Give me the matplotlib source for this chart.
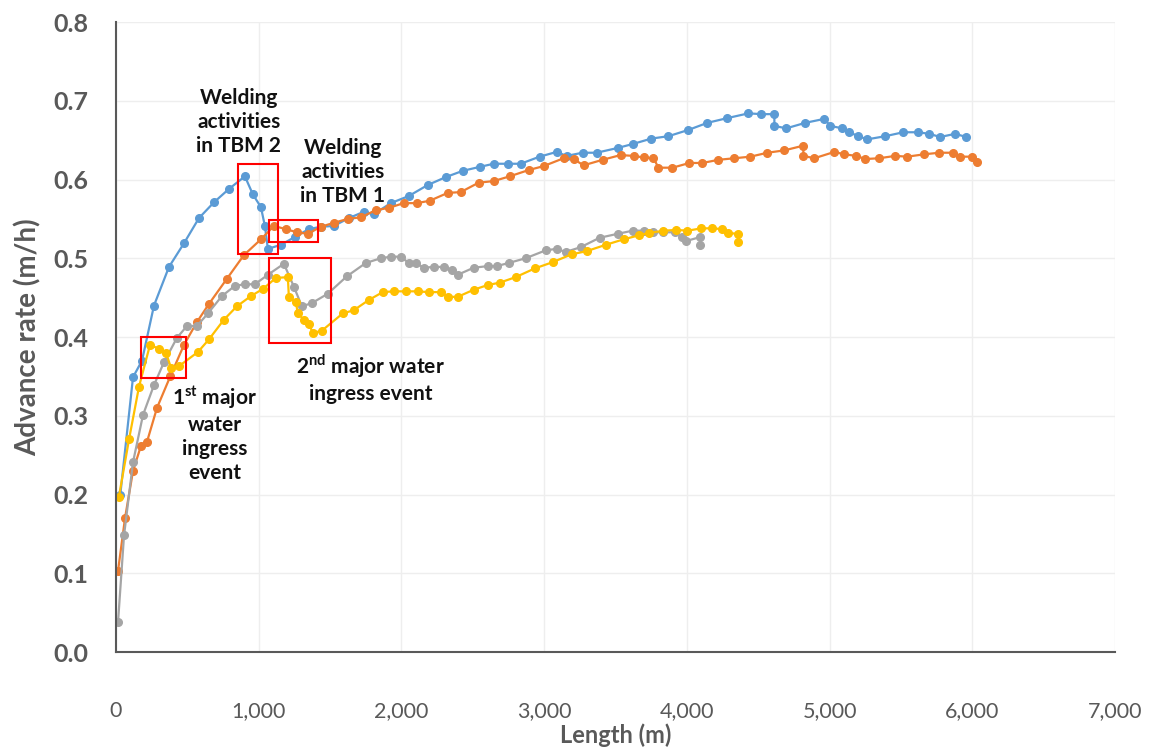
import matplotlib
matplotlib.use("Agg")
import matplotlib.pyplot as plt
from matplotlib.patches import Rectangle

plt.rcParams["font.family"] = ["Lato", "DejaVu Sans"]

# TBM advance rate vs length, four series (Excel default palette)
blue_len = [30, 119, 182, 266, 371, 476, 581, 686, 791, 903, 959, 1015, 1043, 1064, 1155, 1253, 1351,
            1435, 1526, 1631, 1736, 1806, 1925, 2051, 2184, 2310, 2429, 2548, 2646, 2744, 2835, 2968,
            3087, 3157, 3269, 3367, 3514, 3619, 3752, 3871, 4011, 4144, 4284, 4431, 4522, 4613, 4613,
            4697, 4830, 4963, 5005, 5089, 5138, 5201, 5264, 5390, 5516, 5621, 5698, 5775, 5880, 5957]
blue_rate = [0.20, 0.349, 0.37, 0.44, 0.489, 0.519, 0.551, 0.571, 0.588, 0.604, 0.581, 0.565, 0.541,
             0.512, 0.517, 0.527, 0.537, 0.540, 0.541, 0.551, 0.559, 0.556, 0.570, 0.579, 0.593, 0.603,
             0.611, 0.616, 0.620, 0.620, 0.620, 0.629, 0.635, 0.630, 0.634, 0.634, 0.640, 0.645, 0.652,
             0.655, 0.663, 0.672, 0.678, 0.684, 0.683, 0.683, 0.668, 0.665, 0.672, 0.677, 0.668, 0.665,
             0.660, 0.655, 0.651, 0.655, 0.660, 0.660, 0.658, 0.654, 0.658, 0.654]

orange_len = [14, 63, 119, 175, 217, 287, 380, 476, 567, 651, 777, 896, 1015, 1106, 1190, 1267, 1344,
              1435, 1526, 1624, 1715, 1820, 1911, 2016, 2107, 2198, 2324, 2415, 2541, 2646, 2758, 2891,
              2996, 3136, 3206, 3276, 3409, 3535, 3626, 3696, 3766, 3801, 3899, 4018, 4109, 4221, 4333,
              4445, 4564, 4683, 4816, 4816, 4893, 5033, 5103, 5187, 5250, 5348, 5460, 5544, 5663, 5768,
              5866, 5915, 5999, 6034]
orange_rate = [0.103, 0.170, 0.230, 0.262, 0.267, 0.310, 0.350, 0.390, 0.419, 0.442, 0.474, 0.504,
               0.524, 0.541, 0.537, 0.533, 0.531, 0.540, 0.545, 0.550, 0.552, 0.561, 0.564, 0.570,
               0.570, 0.573, 0.583, 0.584, 0.596, 0.598, 0.604, 0.612, 0.617, 0.627, 0.626, 0.618,
               0.625, 0.631, 0.630, 0.628, 0.627, 0.615, 0.615, 0.621, 0.621, 0.625, 0.627, 0.629,
               0.634, 0.637, 0.643, 0.630, 0.627, 0.635, 0.632, 0.630, 0.626, 0.627, 0.630, 0.629,
               0.632, 0.634, 0.634, 0.629, 0.629, 0.622]

gray_len = [14, 56, 119, 189, 266, 336, 427, 497, 567, 644, 742, 833, 903, 973, 1064, 1176, 1246, 1302,
            1372, 1484, 1617, 1750, 1855, 1925, 1995, 2051, 2100, 2156, 2226, 2296, 2352, 2394, 2506,
            2604, 2667, 2751, 2870, 3010, 3087, 3150, 3255, 3388, 3514, 3619, 3696, 3766, 3836, 3920,
            3969, 3997, 4095, 4095]
gray_rate = [0.038, 0.148, 0.241, 0.301, 0.339, 0.368, 0.399, 0.414, 0.414, 0.430, 0.452, 0.465, 0.467,
             0.467, 0.479, 0.493, 0.464, 0.439, 0.443, 0.455, 0.477, 0.494, 0.500, 0.502, 0.502, 0.494,
             0.494, 0.488, 0.489, 0.489, 0.485, 0.479, 0.488, 0.490, 0.490, 0.494, 0.500, 0.510, 0.512,
             0.508, 0.514, 0.526, 0.531, 0.535, 0.535, 0.533, 0.533, 0.533, 0.527, 0.522, 0.527, 0.517]

yellow_len = [20, 91, 161, 238, 301, 350, 385, 441, 574, 651, 756, 847, 945, 1029, 1120, 1204, 1211,
              1260, 1274, 1316, 1351, 1379, 1442, 1589, 1666, 1771, 1869, 1946, 2030, 2114, 2191, 2275,
              2324, 2394, 2506, 2604, 2688, 2800, 2933, 3059, 3192, 3297, 3430, 3556, 3661, 3731, 3836,
              3927, 4004, 4102, 4179, 4249, 4291, 4361, 4361]
yellow_rate = [0.197, 0.270, 0.337, 0.390, 0.385, 0.380, 0.361, 0.363, 0.381, 0.397, 0.422, 0.439,
               0.452, 0.461, 0.475, 0.476, 0.451, 0.444, 0.430, 0.422, 0.417, 0.405, 0.408, 0.430,
               0.434, 0.447, 0.457, 0.458, 0.458, 0.458, 0.457, 0.457, 0.451, 0.451, 0.460, 0.466,
               0.469, 0.476, 0.487, 0.495, 0.505, 0.509, 0.517, 0.524, 0.529, 0.532, 0.535, 0.536,
               0.535, 0.538, 0.538, 0.537, 0.532, 0.531, 0.521]

series = [
    (blue_len, blue_rate, "#5B9BD5"),
    (orange_len, orange_rate, "#ED7D31"),
    (gray_len, gray_rate, "#A5A5A5"),
    (yellow_len, yellow_rate, "#FFC000"),
]

# event boxes: (x0, x1, y0, y1)
boxes = [
    (175, 490, 0.348, 0.400),
    (854, 1134, 0.505, 0.620),
    (1071, 1414, 0.521, 0.549),
    (1071, 1505, 0.392, 0.500),
]

x_ticks = [0, 1000, 2000, 3000, 4000, 5000, 6000, 7000]
y_ticks = [0.0, 0.1, 0.2, 0.3, 0.4, 0.5, 0.6, 0.7, 0.8]

fig = plt.figure(figsize=(11.58, 7.51), dpi=100)
ax = fig.add_axes([0.1002, 0.1318, 0.8627, 0.8389])

for xs, ys, col in series:
    ax.plot(xs, ys, color=col, lw=1.6, marker="o", ms=5.5, mec=col, mfc=col)

for x0, x1, y0, y1 in boxes:
    ax.add_patch(Rectangle((x0, y0), x1 - x0, y1 - y0, fill=False, ec="#FF0000", lw=1.5, zorder=5))

ax.set_xlim(0, 7000)
ax.set_ylim(0, 0.8)
ax.set_xticks(x_ticks)
ax.set_xticklabels([f"{t:,}" for t in x_ticks], fontsize=15.5, color="#595959")
ax.set_yticks(y_ticks)
ax.set_yticklabels([f"{t:.1f}" for t in y_ticks], fontsize=18, color="#595959", fontweight="bold")
ax.tick_params(axis="x", length=0, pad=35)
ax.tick_params(axis="y", length=0, pad=20)
ax.grid(True, color="#EEEEEE", lw=1)
ax.set_axisbelow(True)
for s in ["top", "right"]:
    ax.spines[s].set_visible(False)
for s in ["left", "bottom"]:
    ax.spines[s].set_color("#595959")
    ax.spines[s].set_linewidth(1.5)

ax.set_xlabel("Length (m)", fontsize=17, color="#595959", fontweight="bold")
ax.xaxis.set_label_coords(0.5, -0.1135)
ax.set_ylabel("Advance rate (m/h)", fontsize=20, color="#595959", fontweight="bold", labelpad=8)

txt = dict(fontsize=15, fontweight="bold", ha="center", va="center", color="#111111",
           linespacing=1.25)
ax.text(861, 0.673, "Welding\nactivities\nin TBM 2", **txt)
ax.text(1589, 0.610, "Welding\nactivities\nin TBM 1", **txt)
ax.text(693, 0.278, "1$^{\\mathregular{st}}$ major\nwater\ningress\nevent", **txt)
ax.text(1785, 0.348, "2$^{\\mathregular{nd}}$ major water\ningress event", **txt)

fig.savefig("out.png", dpi=100)
